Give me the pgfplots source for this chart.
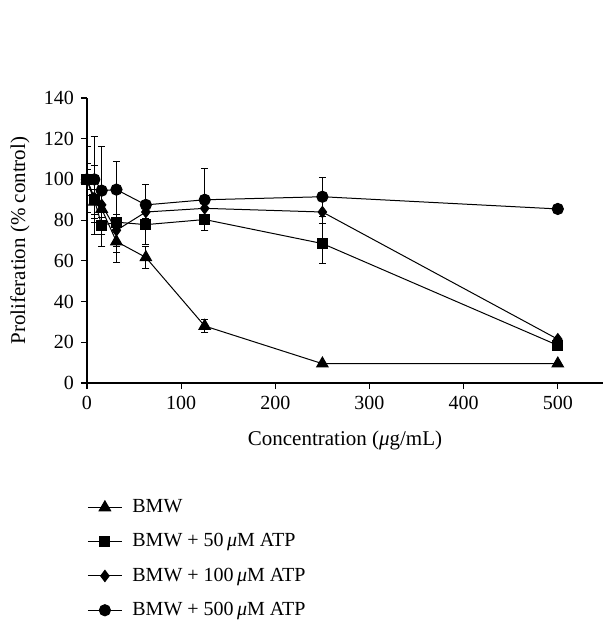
\documentclass[border=0pt]{standalone}
\usepackage{pgfplots}
\pgfplotsset{compat=1.18}
\usepackage{fontspec}
\setmainfont{Liberation Serif}

\pgfplotstableread{
x     y     e
0     100   5
7.8   89    6
15.6  85.5  8
31.25 69.5  10.5
62.5  61.7  5.5
125   28    3
250   9.5   0
500   9.5   0
}\bmw
\pgfplotstableread{
x     y     e
0     100   5
7.8   90    17
15.6  77.5  10.5
31.25 79    15
62.5  77.8  10
125   80.3  5.6
250   68.5  10
500   18.5  0
}\atpfifty
\pgfplotstableread{
x     y     e
0     100   8
7.8   91    10
15.6  87.5  6
31.25 75    8
62.5  84    3
125   85.8  3
250   84    5.7
500   21.5  0
}\atphundred
\pgfplotstableread{
x     y     e
0     100   16
7.8   100   21
15.6  94.5  21.5
31.25 95    14
62.5  87.5  10
125   90    15.3
250   91.5  9.5
500   85.5  0
}\atpfivehundred

\begin{document}
\begin{tikzpicture}
\path[use as bounding box] (-43.5pt,-119.5pt) rectangle (258pt,191.5pt);
\begin{axis}[
  width=258pt, height=142.5pt, scale only axis,
  xmin=0, xmax=548, ymin=0, ymax=140,
  xtick={0,100,...,500}, ytick={0,20,...,140},
  axis lines=left, axis line style={-, line width=0.6pt},
  tick align=outside, major tick length=3pt,
  tick style={black, line width=0.6pt},
  font=\fontsize{10}{12}\selectfont,
  /pgf/number format/assume math mode=true,
  xlabel={Concentration (\textit{μ}g/mL)},
  ylabel={Proliferation (\% control)},
  ylabel style={at={(axis description cs:-0.13,0.5)}, anchor=center,
    font=\fontsize{10.5}{12}\selectfont},
  xlabel style={at={(axis description cs:0.5,-0.2)}, anchor=center,
    font=\fontsize{10.5}{12}\selectfont},
  legend style={draw=none, fill=none, at={(0,-0.393)}, anchor=north west,
    inner sep=0pt, row sep=5pt, font=\fontsize{10}{12}\selectfont,
    cells={anchor=west}},
  legend cell align=left,
  every even column/.append style={column sep=0pt},
  legend image code/.code={\draw[mark repeat=2,mark phase=2,#1]
    plot coordinates {(0pt,0pt) (8.5pt,0pt) (17pt,0pt)};},
  every axis plot/.append style={black, line width=0.5pt, mark options={solid}},
  error bars/error bar style={line width=0.5pt},
  error bars/error mark options={rotate=90, mark size=1.8pt, line width=0.5pt},
]
\addplot[mark=triangle*, mark size=3.3pt,
  error bars/.cd, y dir=both, y explicit]
  table[x=x, y=y, y error=e] {\bmw};
\addplot[mark=square*, mark size=2.5pt,
  error bars/.cd, y dir=both, y explicit]
  table[x=x, y=y, y error=e] {\atpfifty};
\addplot[mark=diamond*, mark size=2.8pt,
  error bars/.cd, y dir=both, y explicit]
  table[x=x, y=y, y error=e] {\atphundred};
\addplot[mark=*, mark size=2.8pt,
  error bars/.cd, y dir=both, y explicit]
  table[x=x, y=y, y error=e] {\atpfivehundred};
\legend{\hspace{3pt}BMW, \hspace{3pt}BMW + 50\,\textit{μ}M ATP, \hspace{3pt}BMW + 100\,\textit{μ}M ATP, \hspace{3pt}BMW + 500\,\textit{μ}M ATP}
\end{axis}
\end{tikzpicture}
\end{document}
